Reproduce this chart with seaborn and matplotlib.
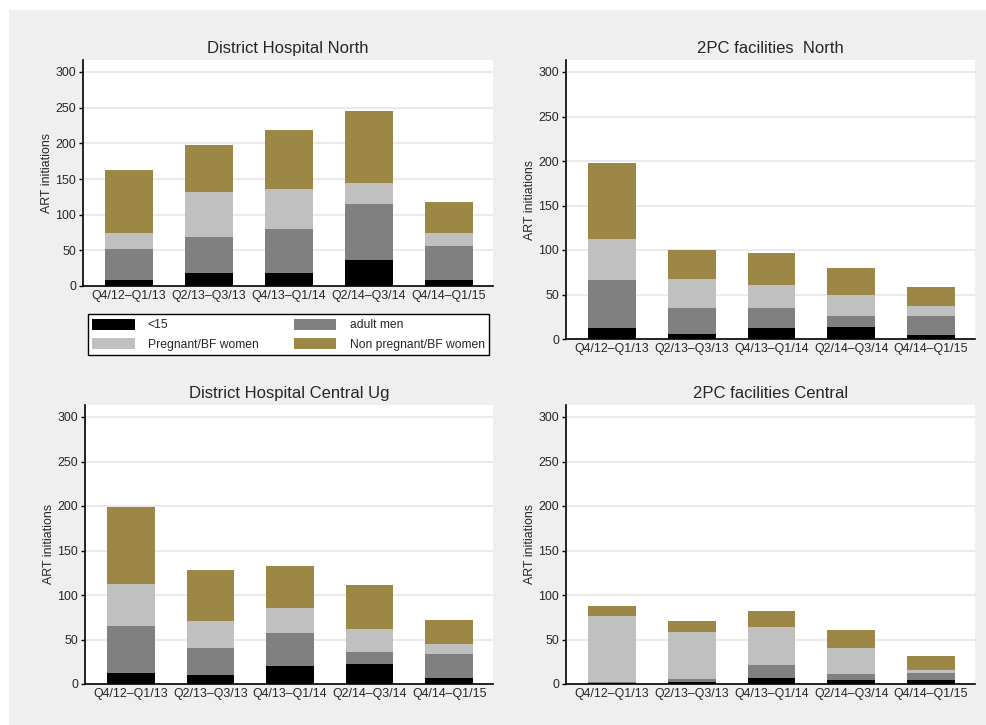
import pandas as pd
import matplotlib
matplotlib.use("Agg")
import matplotlib.pyplot as plt
from matplotlib.patches import Patch, Rectangle
import seaborn as sns

# Periods on the x axis
periods = ["Q4/12–Q1/13", "Q2/13–Q3/13", "Q4/13–Q1/14", "Q2/14–Q3/14", "Q4/14–Q1/15"]

# Groups (stack order, bottom to top) and colours
groups = ["<15", "adult men", "Pregnant/BF women", "Non pregnant/BF women"]
colors = ["#000000", "#808080", "#c0c0c0", "#9c8747"]

# District Hospital North
dh_north_u15 = [8, 18, 18, 36, 8]
dh_north_men = [44, 51, 62, 79, 48]
dh_north_preg = [22, 63, 56, 30, 18]
dh_north_nonpreg = [89, 66, 83, 101, 44]

# 2PC facilities North
pc_north_u15 = [12, 6, 12, 13, 5]
pc_north_men = [54, 29, 23, 13, 21]
pc_north_preg = [46, 32, 26, 23, 11]
pc_north_nonpreg = [86, 33, 36, 31, 21]

# District Hospital Central Ug
dh_central_u15 = [12, 10, 20, 23, 7]
dh_central_men = [53, 30, 37, 13, 27]
dh_central_preg = [47, 31, 28, 26, 11]
dh_central_nonpreg = [87, 57, 48, 49, 27]

# 2PC facilities Central
pc_central_u15 = [1, 2, 7, 5, 4]
pc_central_men = [1, 4, 14, 6, 8]
pc_central_preg = [74, 52, 43, 29, 4]
pc_central_nonpreg = [12, 13, 18, 21, 16]

sns.set_theme(style="white")
plt.rcParams['font.family'] = ['Liberation Sans', 'DejaVu Sans']

W, H = 987, 725
fig = plt.figure(figsize=(W / 100, H / 100), dpi=100)
fig.patch.set_facecolor("white")
fig.add_artist(Rectangle((9 / W, 0), 1, 1 - 10 / H, transform=fig.transFigure,
                         facecolor="#efefef", edgecolor="none", zorder=-10))


def px_axes(left, top, right, bottom):
    return fig.add_axes([left / W, 1 - bottom / H, (right - left) / W, (bottom - top) / H])


panels = [
    ("District Hospital North", (83, 60, 493, 286),
     [dh_north_u15, dh_north_men, dh_north_preg, dh_north_nonpreg]),
    ("2PC facilities  North", (566, 60, 975, 339),
     [pc_north_u15, pc_north_men, pc_north_preg, pc_north_nonpreg]),
    ("District Hospital Central Ug", (85, 405, 493, 684),
     [dh_central_u15, dh_central_men, dh_central_preg, dh_central_nonpreg]),
    ("2PC facilities Central", (566, 405, 975, 684),
     [pc_central_u15, pc_central_men, pc_central_preg, pc_central_nonpreg]),
]

for title, box, series in panels:
    ax = px_axes(*box)
    df = pd.DataFrame(dict(zip(groups, series)))
    df["period"] = periods
    cum = df[groups].cumsum(axis=1)

    # draw totals first, then each lower stack on top
    for g, c in reversed(list(zip(groups, colors))):
        sns.barplot(x=df["period"], y=cum[g], color=c, saturation=1, width=0.6,
                    errorbar=None, linewidth=0, ax=ax)

    # 300 sits 12 px below the top of the plot area
    h_px = box[3] - box[1]
    ytop = 300 + 12 * 300 / (h_px - 12)
    ax.set_ylim(0, ytop)
    ax.set_xlim(-0.575, 4.55)
    ax.set_yticks(range(0, 301, 50))
    ax.set_facecolor("white")
    ax.set_axisbelow(True)
    ax.grid(axis="y", color="#e8e8e8", linewidth=1.3)
    ax.grid(axis="x", visible=False)
    for s in ["top", "right"]:
        ax.spines[s].set_visible(False)
    for s in ["left", "bottom"]:
        ax.spines[s].set_color("black")
        ax.spines[s].set_linewidth(1.2)
    ax.tick_params(axis="y", length=3, width=1, color="black", pad=2,
                   labelsize=8.9, left=True)
    ax.tick_params(axis="x", length=0, pad=3, labelsize=8.9)
    ax.set_xlabel("")
    ax.set_ylabel("ART initiations", fontsize=8.9, labelpad=2)
    ax.set_title(title, fontsize=12, pad=5)

handles = [Patch(facecolor=colors[i], edgecolor="none", label=groups[i]) for i in [0, 2, 1, 3]]
leg = fig.legend(handles=handles, loc="lower left",
                 bbox_to_anchor=(88 / W, 1 - 355 / H, 401 / W, 45 / H),
                 mode="expand", ncol=2, fontsize=8.7, frameon=True, fancybox=False,
                 edgecolor="black", facecolor="white", framealpha=1,
                 handlelength=3.5, handleheight=1.05, handletextpad=1.1,
                 borderaxespad=0, borderpad=0.35, labelspacing=0.55)
leg.get_frame().set_linewidth(1.0)

fig.savefig("out.png", dpi=100)
